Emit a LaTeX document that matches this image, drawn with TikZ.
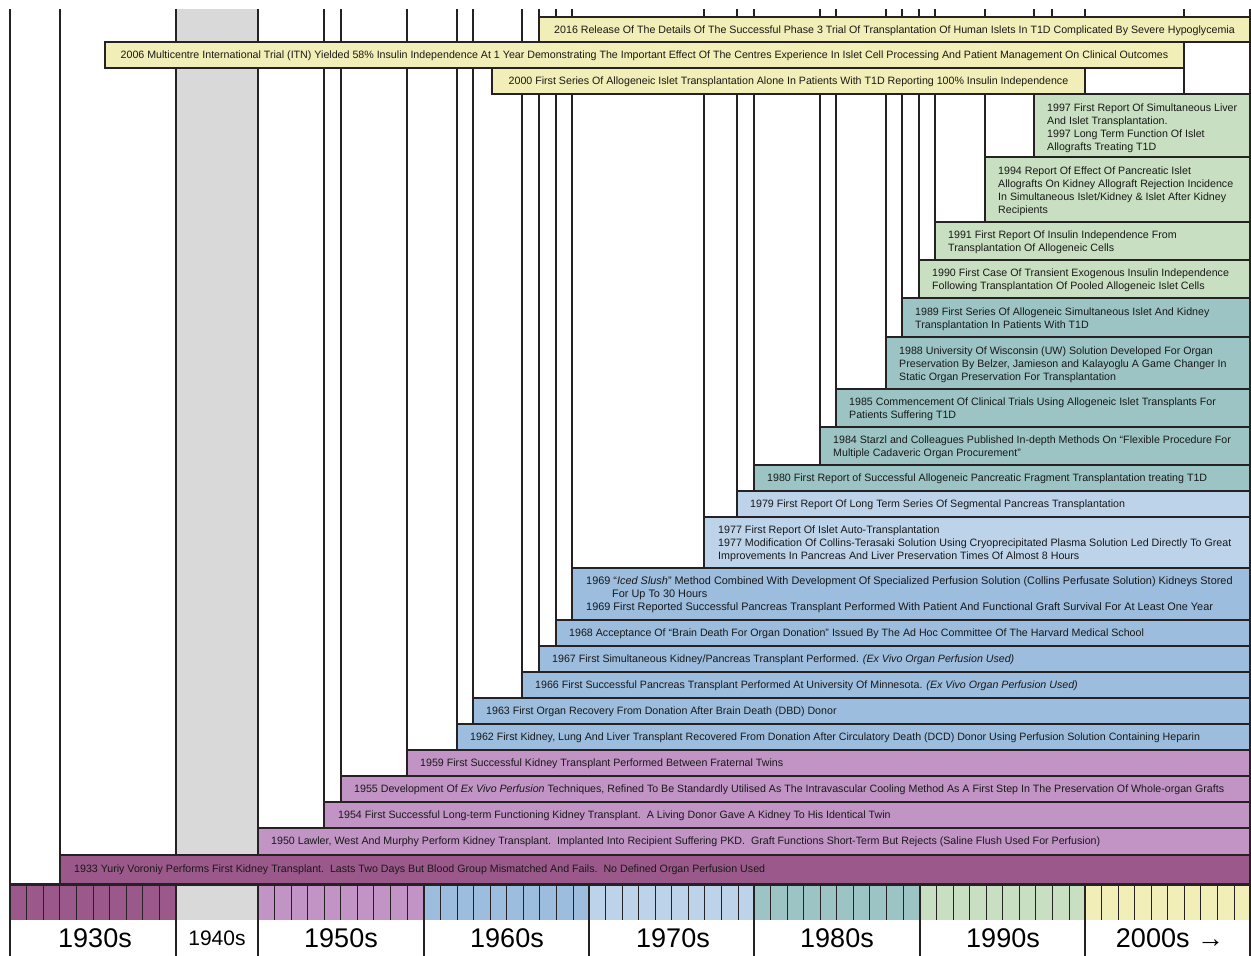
\documentclass[tikz,border=0pt]{standalone}
\usepackage{fontspec}
\setmainfont{Liberation Sans}
\usepackage{tikz}

\definecolor{linecol}{RGB}{38,34,36}
\definecolor{c30}{RGB}{155,88,138}
\definecolor{c40}{RGB}{217,217,217}
\definecolor{c50}{RGB}{193,148,197}
\definecolor{c60}{RGB}{156,189,221}
\definecolor{c70}{RGB}{188,211,234}
\definecolor{c80}{RGB}{157,196,196}
\definecolor{c90}{RGB}{201,223,193}
\definecolor{c00}{RGB}{242,238,183}

\tikzset{colbox/.style={draw=linecol, line width=1.4pt, fill=white},
	evbar/.style={draw=linecol, line width=1.4pt, fill=#1},
	evtext/.style={anchor=west, align=left, inner sep=0pt, text=black!90,
		font=\fontsize{10.65}{13}\selectfont},
	evwide/.style={evtext, font=\fontsize{#1}{13}\selectfont},
	evmid/.style={evtext, anchor=center, align=center},
	yeartick/.style={draw=linecol, line width=0.8pt},
	decline/.style={draw=linecol, line width=1.2pt},
	declabel/.style={font=\fontsize{27}{30}\selectfont, inner sep=0pt}}

\begin{document}
\begin{tikzpicture}[x=1pt,y=-1pt]
	\useasboundingbox (0,0) rectangle (1251,956);
	
	\begin{scope}
	\clip (0,9) rectangle (1251,956);
	
	% columns, oldest first
	\draw[colbox] (10,0) rectangle (1250,884);
	\draw[colbox] (60,0) rectangle (1250,884);
	\draw[evbar=c30] (60,855) rectangle (1250,884);
	\node[evtext] (e1933) at (74,869.5) {1933 Yuriy Voroniy Performs First Kidney Transplant.\ \ Lasts Two Days But Blood Group Mismatched And Fails.\ \ No Defined Organ Perfusion Used};
	\draw[colbox, fill=c40] (176,0) rectangle (258,855);
	
	\draw[colbox] (258,0) rectangle (1250,855);
	\draw[evbar=c50] (258,828) rectangle (1250,855);
	\node[evtext] (e1950) at (271,842) {1950 Lawler, West And Murphy Perform Kidney Transplant.\ \ Implanted Into Recipient Suffering PKD.\ \ Graft Functions Short-Term But Rejects (Saline Flush Used For Perfusion)};
	
	\draw[colbox] (324,0) rectangle (1250,828);
	\draw[evbar=c50] (324,802) rectangle (1250,828);
	\node[evtext] (e1954) at (338,815.5) {1954 First Successful Long-term Functioning Kidney Transplant.\ \ A Living Donor Gave A Kidney To His Identical Twin};
	
	\draw[colbox] (341,0) rectangle (1250,802);
	\draw[evbar=c50] (341,776) rectangle (1250,802);
	\node[evtext] (e1955) at (354,789.5) {1955 Development Of \textit{Ex Vivo Perfusion} Techniques, Refined To Be Standardly Utilised As The Intravascular Cooling Method As A First Step In The Preservation Of Whole-organ Grafts};
	
	\draw[colbox] (407,0) rectangle (1250,776);
	\draw[evbar=c50] (407,750) rectangle (1250,776);
	\node[evtext] (e1959) at (420,763.5) {1959 First Successful Kidney Transplant Performed Between Fraternal Twins};
	
	\draw[colbox] (457,0) rectangle (1250,750);
	\draw[evbar=c60] (457,724) rectangle (1250,750);
	\node[evtext] (e1962) at (470,737.5) {1962 First Kidney, Lung And Liver Transplant Recovered From Donation After Circulatory Death (DCD) Donor Using Perfusion Solution Containing Heparin};
	
	\draw[colbox] (473,0) rectangle (1250,724);
	\draw[evbar=c60] (473,698) rectangle (1250,724);
	\node[evtext] (e1963) at (486,711.5) {1963 First Organ Recovery From Donation After Brain Death (DBD) Donor};
	
	\draw[colbox] (522,0) rectangle (1250,698);
	\draw[evbar=c60] (522,672) rectangle (1250,698);
	\node[evtext] (e1966) at (535,685.5) {1966 First Successful Pancreas Transplant Performed At University Of Minnesota. \textit{(Ex Vivo Organ Perfusion Used)}};
	
	\draw[colbox] (539,0) rectangle (1250,672);
	\draw[evbar=c60] (539,646) rectangle (1250,672);
	\node[evtext] (e1967) at (552,659.5) {1967 First Simultaneous Kidney/Pancreas Transplant Performed. \textit{(Ex Vivo Organ Perfusion Used)}};
	
	\draw[colbox] (556,0) rectangle (1250,646);
	\draw[evbar=c60] (556,620) rectangle (1250,646);
	\node[evtext] (e1968) at (569,633.5) {1968 Acceptance Of “Brain Death For Organ Donation” Issued By The Ad Hoc Committee Of The Harvard Medical School};
	
	\draw[colbox] (572,0) rectangle (1250,620);
	\draw[evbar=c60] (572,568) rectangle (1250,620);
	\node[evwide=10.9] (e1969) at (586,595) {1969 “\textit{Iced Slush}” Method Combined With Development Of Specialized Perfusion Solution (Collins Perfusate Solution) Kidneys Stored\\\hspace*{26pt}For Up To 30 Hours\\1969 First Reported Successful Pancreas Transplant Performed With Patient And Functional Graft Survival For At Least One Year};
	
	\draw[colbox] (704,0) rectangle (1250,568);
	\draw[evbar=c70] (704,517) rectangle (1250,568);
	\node[evwide=10.7] (e1977) at (718,544) {1977 First Report Of Islet Auto-Transplantation\\1977 Modification Of Collins-Terasaki Solution Using Cryoprecipitated Plasma Solution Led Directly To Great\\Improvements In Pancreas And Liver Preservation Times Of Almost 8 Hours};
	
	\draw[colbox] (737,0) rectangle (1250,517);
	\draw[evbar=c70] (737,491) rectangle (1250,517);
	\node[evtext] (e1979) at (750,505) {1979 First Report Of Long Term Series Of Segmental Pancreas Transplantation};
	
	\draw[colbox] (754,0) rectangle (1250,491);
	\draw[evbar=c80] (754,465) rectangle (1250,491);
	\node[evtext] (e1980) at (767,479) {1980 First Report of Successful Allogeneic Pancreatic Fragment Transplantation treating T1D};
	
	\draw[colbox] (820,0) rectangle (1250,465);
	\draw[evbar=c80] (820,427) rectangle (1250,465);
	\node[evtext] (e1984) at (833,447.5) {1984 Starzl and Colleagues Published In-depth Methods On “Flexible Procedure For\\Multiple Cadaveric Organ Procurement”};
	
	\draw[colbox] (836,0) rectangle (1250,427);
	\draw[evbar=c80] (836,389) rectangle (1250,427);
	\node[evtext] (e1985) at (849,409.5) {1985 Commencement Of Clinical Trials Using Allogeneic Islet Transplants For\\Patients Suffering T1D};
	
	\draw[colbox] (886,0) rectangle (1250,389);
	\draw[evbar=c80] (886,337) rectangle (1250,389);
	\node[evtext] (e1988) at (899,364.5) {1988 University Of Wisconsin (UW) Solution Developed For Organ\\Preservation By Belzer, Jamieson and Kalayoglu A Game Changer In\\Static Organ Preservation For Transplantation};
	
	\draw[colbox] (902,0) rectangle (1250,337);
	\draw[evbar=c80] (902,298) rectangle (1250,337);
	\node[evtext] (e1989) at (915,319) {1989 First Series Of Allogeneic Simultaneous Islet And Kidney\\Transplantation In Patients With T1D};
	
	\draw[colbox] (919,0) rectangle (1250,298);
	\draw[evbar=c90] (919,260) rectangle (1250,298);
	\node[evtext] (e1990) at (932,280.5) {1990 First Case Of Transient Exogenous Insulin Independence\\Following Transplantation Of Pooled Allogeneic Islet Cells};
	
	\draw[colbox] (935,0) rectangle (1250,260);
	\draw[evbar=c90] (935,222) rectangle (1250,260);
	\node[evtext] (e1991) at (948,242.5) {1991 First Report Of Insulin Independence From\\Transplantation Of Allogeneic Cells};
	
	\draw[colbox] (985,0) rectangle (1250,222);
	\draw[evbar=c90] (985,157) rectangle (1250,222);
	\node[evtext] (e1994) at (998,191.5) {1994 Report Of Effect Of Pancreatic Islet\\Allografts On Kidney Allograft Rejection Incidence\\In Simultaneous Islet/Kidney \& Islet After Kidney\\Recipients};
	
	\draw[colbox] (1034,0) rectangle (1250,157);
	\draw[evbar=c90] (1034,94) rectangle (1250,157);
	\node[evtext] (e1997) at (1047,128) {1997 First Report Of Simultaneous Liver\\And Islet Transplantation.\\1997 Long Term Function Of Islet\\Allografts Treating T1D};
	
	% 2000s columns, bars sit to the left of their year
	\draw[colbox] (1052,0) rectangle (1250,94);
	\draw[colbox] (1085,0) rectangle (1250,94);
	\draw[colbox] (1184,0) rectangle (1250,94);
	
	\draw[evbar=c00] (539,17) rectangle (1250,42);
	\node[evmid] (e2016) at (894.5,30.5) {2016 Release Of The Details Of The Successful Phase 3 Trial Of Transplantation Of Human Islets In T1D Complicated By Severe Hypoglycemia};
	\draw[evbar=c00] (105,42) rectangle (1184,68);
	\node[evmid] (e2006) at (644.5,56) {2006 Multicentre International Trial (ITN) Yielded 58\% Insulin Independence At 1 Year Demonstrating The Important Effect Of The Centres Experience In Islet Cell Processing And Patient Management On Clinical Outcomes};
	\draw[evbar=c00] (492,68) rectangle (1085,94);
	\node[evmid] (e2000) at (788.5,82) {2000 First Series Of Allogeneic Islet Transplantation Alone In Patients With T1D Reporting 100\% Insulin Independence};
	\end{scope}
	
	% decade strip
	\fill[c30] (10,884) rectangle (176,920);
	\fill[c40] (176,884) rectangle (258,920);
	\fill[c50] (258,884) rectangle (424,920);
	\fill[c60] (424,884) rectangle (589,920);
	\fill[c70] (589,884) rectangle (754,920);
	\fill[c80] (754,884) rectangle (920,920);
	\fill[c90] (920,884) rectangle (1085,920);
	\fill[c00] (1085,884) rectangle (1250,920);
	\foreach \k in {1,...,9} \draw[yeartick] (10+\k*16.6,884) -- ++(0,36);
	\foreach \d in {258,424,589,754,920,1085}
		\foreach \k in {1,...,9} \draw[yeartick] (\d+\k*16.55,884) -- ++(0,36);
	\foreach \d in {10,176,258,424,589,754,920,1085,1250}
		\draw[decline] (\d,884) -- (\d,956);
	\draw[linecol, line width=3pt] (9,884) -- (1251,884);
	
	\node[declabel] (d1930) at (95,938.5) {1930s};
	\node[declabel, font=\fontsize{21}{24}\selectfont] (d1940) at (217,938.5) {1940s};
	\node[declabel] (d1950) at (341,938.5) {1950s};
	\node[declabel] (d1960) at (507,938.5) {1960s};
	\node[declabel] (d1970) at (673,938.5) {1970s};
	\node[declabel] (d1980) at (837,938.5) {1980s};
	\node[declabel] (d1990) at (1003,938.5) {1990s};
	\node[declabel] (d2000) at (1170,938.5) {2000s →};
\end{tikzpicture}
\end{document}
